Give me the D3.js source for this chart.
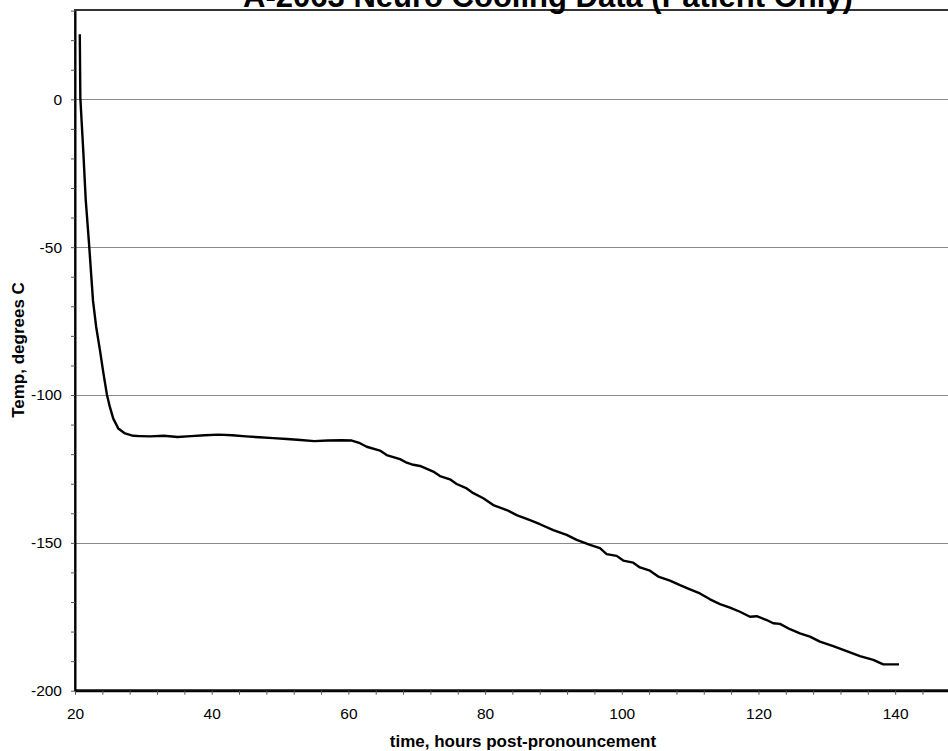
<!DOCTYPE html>
<html>
<head>
<meta charset="utf-8">
<script src="https://cdn.jsdelivr.net/npm/d3@7"></script>
<style>
  html, body { margin: 0; padding: 0; background: #fff; overflow: hidden; }
  svg { display: block; font-family: "Liberation Sans", Arial, sans-serif; }
</style>
</head>
<body>
<svg id="chart" width="948" height="751"></svg>
<script>
// ---- Data ----
const titleText = "A-2063 Neuro Cooling Data (Patient Only)";
const xLabel = "time, hours post-pronouncement";
const yLabel = "Temp, degrees C";

const hours = [
  20.70, 20.78, 21.20, 21.57, 22.05, 22.63, 23.10, 23.66, 24.15, 24.68,
  25.12, 25.60, 26.33, 27.32, 28.53, 29.5, 31, 33, 35, 37, 39, 41, 43, 45, 47, 49, 51, 53, 55, 57,
  59, 60.5, 61.70, 62.68, 64.62, 65.60, 67.55, 68.53, 69.50, 70.48, 72.42, 73.40, 74.86, 75.84,
  77.31, 78.28, 79.74, 81.20, 83.16, 84.62, 86.57, 88.03, 89.98, 91.94, 93.40, 95.35, 96.81, 97.79,
  99.25, 100.22, 101.68, 102.66, 104.12, 105.34, 107.05, 108.52, 109.98, 111.44, 112.91, 114.37,
  115.83, 117.29, 118.76, 119.74, 121.20, 122.16, 123.15, 124.61, 126.07, 127.53, 128.99, 130.94,
  132.90, 134.85, 136.80, 138.26, 139.24, 140.56
];
const temps = [
  22, 0.5, -17.0, -34.0, -48.7, -68.0, -77.0, -85.0, -92.5, -100.0,
  -104.2, -108.0, -111.3, -113.0, -113.8, -113.9, -114.0, -113.8, -114.2, -113.9, -113.6, -113.4,
  -113.6, -114.0, -114.3, -114.6, -114.9, -115.2, -115.6, -115.4, -115.3, -115.4, -116.3, -117.5,
  -118.8, -120.3, -121.7, -122.9, -123.6, -124.0, -125.9, -127.4, -128.5, -130.1, -131.6, -133.2,
  -134.9, -137.2, -138.9, -140.6, -142.3, -143.7, -145.7, -147.3, -149.0, -150.7, -151.8, -153.8,
  -154.4, -156.0, -156.7, -158.3, -159.4, -161.4, -162.8, -164.3, -165.7, -167.1, -169.1, -170.7,
  -171.9, -173.3, -175.0, -174.8, -176.1, -177.2, -177.4, -179.2, -180.6, -181.7, -183.4, -184.9,
  -186.6, -188.3, -189.6, -191.1, -191.1, -191.1
];

const xDomain = [20, 150];
const yDomain = [-200, 30];
const xTickValues = d3.range(20, 151, 4);
const xLabelValues = [20, 40, 60, 80, 100, 120, 140];
const yTickValues = d3.range(-200, 31, 10);
const yLabelValues = [-200, -150, -100, -50, 0];
const yGridValues = [-150, -100, -50, 0];

// ---- Layout ----
const svg = d3.select("#chart");
const plotL = 75, plotR = 963.5, plotT = 10.6, plotB = 690.7;

const x = d3.scaleLinear().domain(xDomain).range([plotL, plotR]);
const y = d3.scaleLinear().domain(yDomain).range([plotB, plotT]);

// plot border (top edge visible)
svg.append("rect")
  .attr("x", plotL).attr("y", plotT - 0.6)
  .attr("width", plotR - plotL).attr("height", plotB - plotT)
  .attr("fill", "none").attr("stroke", "#333").attr("stroke-width", 2);

// gridlines
svg.append("g").selectAll("line").data(yGridValues).join("line")
  .attr("x1", plotL).attr("x2", plotR)
  .attr("y1", d => Math.round(y(d)) + 0.5).attr("y2", d => Math.round(y(d)) + 0.5)
  .attr("stroke", "#8a8a8a").attr("stroke-width", 1);

// axes
const xAxis = d3.axisBottom(x)
  .tickValues(xTickValues)
  .tickSize(4).tickSizeOuter(0).tickPadding(13)
  .tickFormat(d => xLabelValues.includes(d) ? d : "");
const gx = svg.append("g").attr("transform", `translate(0,${plotB})`).call(xAxis);

const yAxis = d3.axisLeft(y)
  .tickValues(yTickValues)
  .tickSize(4).tickSizeOuter(0).tickPadding(9)
  .tickFormat(d => yLabelValues.includes(d) ? d : "");
const gy = svg.append("g").attr("transform", `translate(${plotL},0)`).call(yAxis);

[gx, gy].forEach(g => {
  g.select(".domain").attr("stroke", "#000").attr("stroke-width", 2);
  g.selectAll(".tick line").attr("stroke", "#555").attr("stroke-width", 1);
  g.selectAll(".tick text")
    .attr("fill", "#000")
    .style("font-family", '"Liberation Sans", Arial, sans-serif')
    .style("font-size", "15.5px");
});

// line
const line = d3.line()
  .x((d, i) => x(hours[i]))
  .y(d => y(d));
svg.append("path")
  .datum(temps)
  .attr("fill", "none")
  .attr("stroke", "#000")
  .attr("stroke-width", 2.4)
  .attr("stroke-linejoin", "round")
  .attr("d", line);

// title
svg.append("text")
  .attr("x", 548).attr("y", 7)
  .attr("text-anchor", "middle")
  .style("font-size", "31px").style("font-weight", "bold")
  .attr("fill", "#000")
  .text(titleText);

// axis labels
svg.append("text")
  .attr("x", 523).attr("y", 747)
  .attr("text-anchor", "middle")
  .style("font-size", "17px").style("font-weight", "bold")
  .text(xLabel);

svg.append("text")
  .attr("transform", "translate(24,350) rotate(-90)")
  .attr("text-anchor", "middle")
  .style("font-size", "17px").style("font-weight", "bold")
  .text(yLabel);
</script>
</body>
</html>
